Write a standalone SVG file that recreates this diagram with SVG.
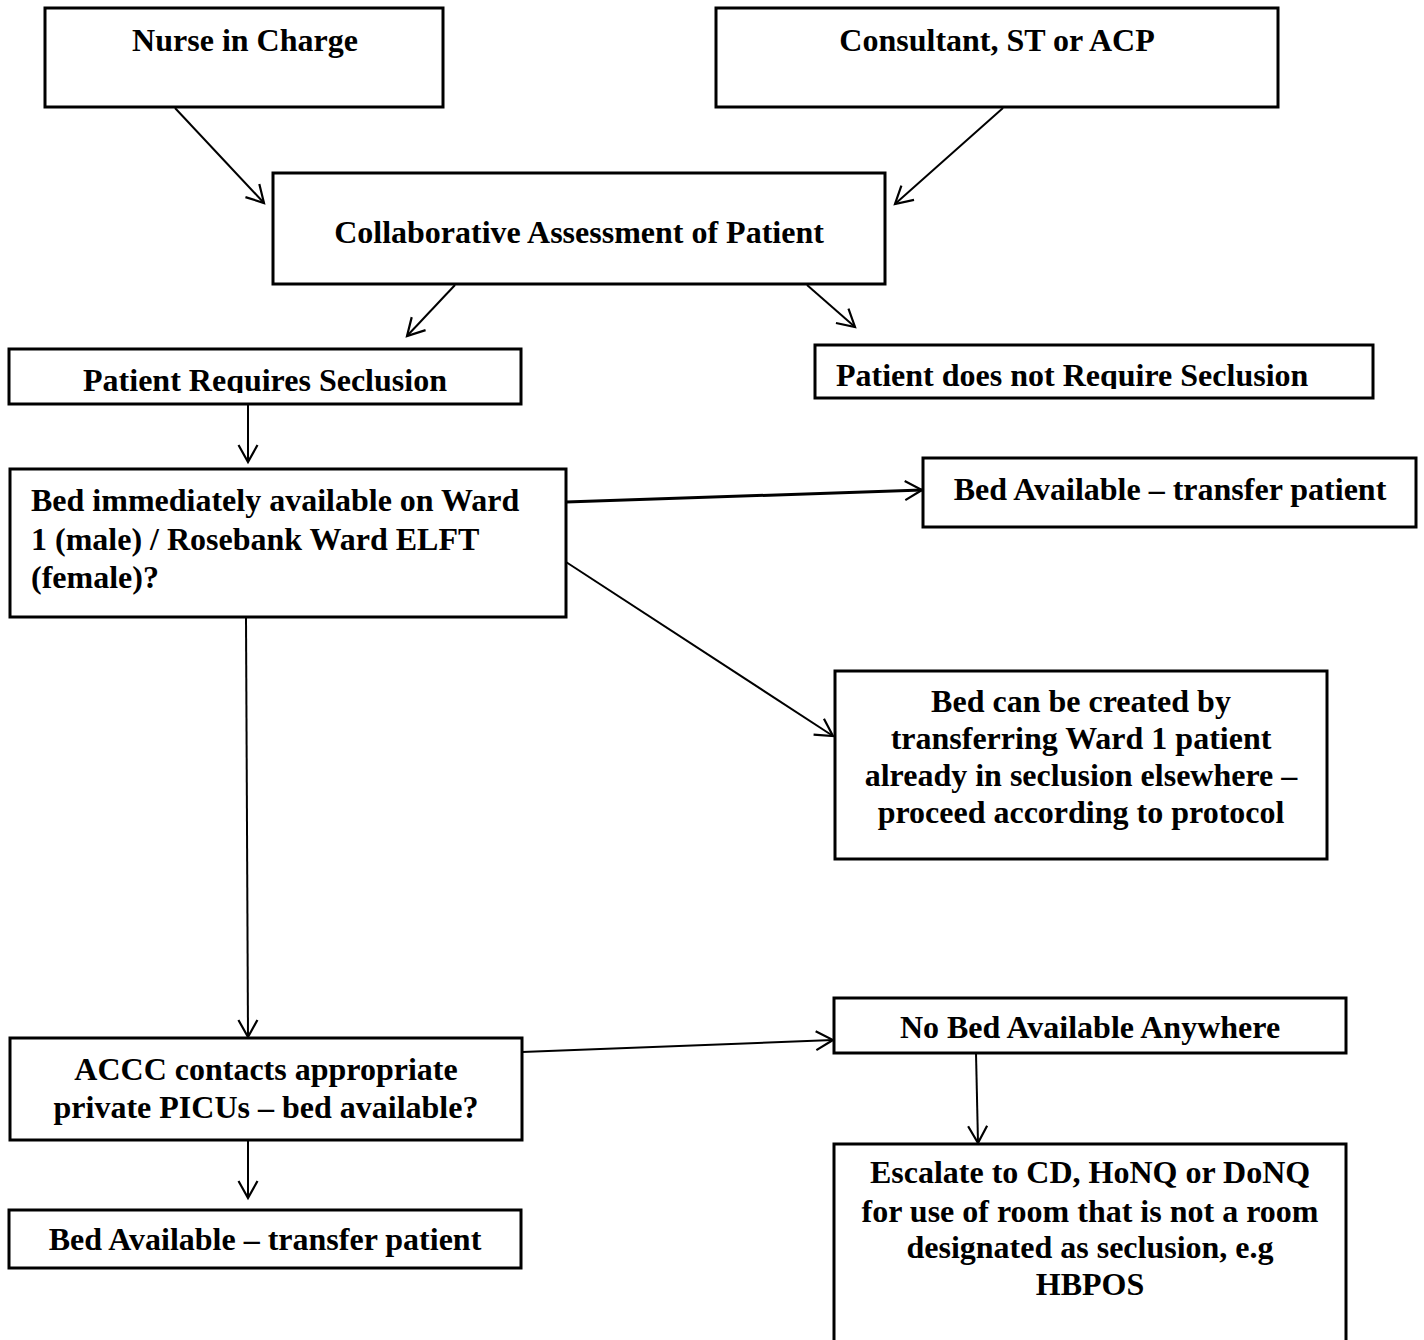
<svg xmlns="http://www.w3.org/2000/svg" width="1424" height="1340" viewBox="0 0 1424 1340">
<style>
.box{fill:#fff;stroke:#000;stroke-width:3}
.t{font-family:"Liberation Serif","Times New Roman",serif;font-weight:bold;font-size:32px;fill:#000}
.c{text-anchor:middle}
.conn{fill:none;stroke:#000;stroke-width:2;marker-end:url(#ah)}
</style>
<defs>
<marker id="ah" markerUnits="userSpaceOnUse" markerWidth="40" markerHeight="40" viewBox="-20 -20 40 40" refX="0" refY="0" orient="auto" overflow="visible">
<path d="M-17,-9.5 L0,0 L-17,9.5" fill="none" stroke="#000" stroke-width="2.2"/>
</marker>
<clipPath id="clip1"><rect x="0" y="340" width="530" height="53"/></clipPath>
<clipPath id="clip2"><rect x="810" y="340" width="570" height="49"/></clipPath>
</defs>
<rect width="1424" height="1340" fill="#fff"/>
<g id="nurse"><rect class="box" x="45" y="8" width="398" height="99"/><text class="t c" x="245" y="51">Nurse in Charge</text></g>
<g id="consultant"><rect class="box" x="716" y="8" width="562" height="99"/><text class="t c" x="997" y="51">Consultant, ST or ACP</text></g>
<g id="collab"><rect class="box" x="273" y="173" width="612" height="111"/><text class="t c" x="579" y="243">Collaborative Assessment of Patient</text></g>
<g id="requires"><rect class="box" x="9" y="349" width="512" height="55"/><text class="t c" x="265" y="391" clip-path="url(#clip1)">Patient Requires Seclusion</text></g>
<g id="notrequire"><rect class="box" x="815" y="345" width="558" height="53"/><text class="t" x="836" y="386" clip-path="url(#clip2)">Patient does not Require Seclusion</text></g>
<g id="bedimm"><rect class="box" x="10" y="469" width="556" height="148"/>
<text class="t" x="31" y="511">Bed immediately available on Ward</text>
<text class="t" x="31" y="550">1 (male) / Rosebank Ward ELFT</text>
<text class="t" x="31" y="588">(female)?</text></g>
<g id="bedavail1"><rect class="box" x="923" y="458" width="493" height="69"/><text class="t c" x="1170" y="500">Bed Available – transfer patient</text></g>
<g id="bedcreated"><rect class="box" x="835" y="671" width="492" height="188"/>
<text class="t c" x="1081" y="712">Bed can be created by</text>
<text class="t c" x="1081" y="749">transferring Ward 1 patient</text>
<text class="t c" x="1081" y="786">already in seclusion elsewhere –</text>
<text class="t c" x="1081" y="823">proceed according to protocol</text></g>
<g id="accc"><rect class="box" x="10" y="1038" width="512" height="102"/>
<text class="t c" x="266" y="1080">ACCC contacts appropriate</text>
<text class="t c" x="266" y="1118">private PICUs – bed available?</text></g>
<g id="bedavail2"><rect class="box" x="9" y="1210" width="512" height="58"/><text class="t c" x="265" y="1250">Bed Available – transfer patient</text></g>
<g id="nobed"><rect class="box" x="834" y="998" width="512" height="55"/><text class="t c" x="1090" y="1038">No Bed Available Anywhere</text></g>
<g id="escalate"><rect class="box" x="834" y="1144" width="512" height="210"/>
<text class="t c" x="1090" y="1183">Escalate to CD, HoNQ or DoNQ</text>
<text class="t c" x="1090" y="1222">for use of room that is not a room</text>
<text class="t c" x="1090" y="1258">designated as seclusion, e.g</text>
<text class="t c" x="1090" y="1295">HBPOS</text></g>
<g id="connectors">
<line class="conn" x1="175" y1="108" x2="264" y2="203"/>
<line class="conn" x1="1003" y1="108" x2="895" y2="204"/>
<line class="conn" x1="455" y1="285" x2="407" y2="336"/>
<line class="conn" x1="807" y1="285" x2="855" y2="327"/>
<line class="conn" x1="248" y1="404" x2="248" y2="462"/>
<line class="conn" x1="566" y1="502" x2="922" y2="490" style="stroke-width:3"/>
<line class="conn" x1="566" y1="562" x2="833" y2="736"/>
<line class="conn" x1="246" y1="618" x2="248" y2="1037"/>
<line class="conn" x1="248" y1="1140" x2="248" y2="1198"/>
<line class="conn" x1="522" y1="1052" x2="833" y2="1040"/>
<line class="conn" x1="976" y1="1053" x2="978" y2="1143"/>
</g>
</svg>
